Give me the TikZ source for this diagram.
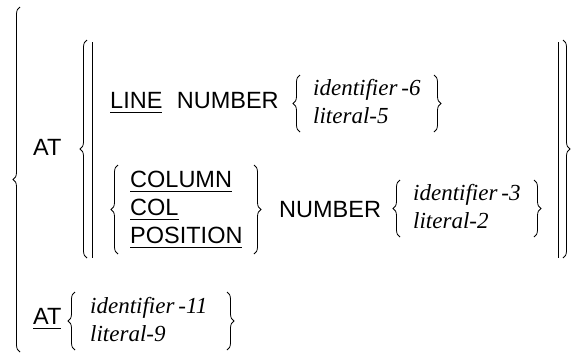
\documentclass[tikz,border=0pt]{standalone}
\usepackage{fontspec}
\setmainfont{Liberation Serif}
\setsansfont{Liberation Sans}
\usetikzlibrary{decorations.pathreplacing,positioning}
\newsavebox{\kwbox}
\newcommand{\kwul}[1]{\sbox{\kwbox}{#1}%
  \rlap{\rule[-5pt]{\wd\kwbox}{1.3pt}}\usebox{\kwbox}}
\tikzset{
  keyword/.style={font=\fontsize{23.5}{28}\selectfont\sffamily,
    inner sep=0pt, anchor=base west},
  operand/.style={font=\fontsize{23}{28}\selectfont\itshape,
    inner sep=0pt, anchor=base west},
  curly/.style={decorate, decoration={brace, amplitude=7pt},
    line width=0.8pt},
  choice bar/.style={line width=0.9pt}
}

\begin{document}
\begin{tikzpicture}[x=1pt, y=-1pt]
  \useasboundingbox (0,0) rectangle (582,354);
  % first choice: AT with LINE / COLUMN
  \node[keyword] (at) at (33,155) {AT};
  \node[keyword] (line) at (110,108) {\kwul{LINE}};
  \node[keyword, right=14pt of line.base east, anchor=base west] (numline) {NUMBER};
  \node[operand] (id6) at (313,95) {identifier\,-6};
  \node[operand] (lit5) at (313,123) {literal-5};
  \node[keyword] (column) at (130,187) {\kwul{COLUMN}};
  \node[keyword] (col) at (130,215) {\kwul{COL}};
  \node[keyword] (position) at (130,243) {\kwul{POSITION}};
  \node[keyword] (numcol) at (279,217) {NUMBER};
  \node[operand] (id3) at (413,200) {identifier\,-3};
  \node[operand] (lit2) at (413,228) {literal-2};
  % second choice: AT alone
  \node[keyword] (atonly) at (33,324) {\kwul{AT}};
  \node[operand] (id11) at (90,313) {identifier\,-11};
  \node[operand] (lit9) at (90,341) {literal-9};
  % braces and bars
  \draw[curly] (20,352) -- (20,7);
  \draw[curly] (87,258) -- (87,40);
  \draw[choice bar] (92,42) -- (92,258);
  \draw[choice bar] (558,42) -- (558,258);
  \draw[curly] (563,40) -- (563,258);
  \draw[curly] (300,132) -- (300,75);
  \draw[curly] (434,75) -- (434,132);
  \draw[curly] (118,254) -- (118,165);
  \draw[curly] (254,165) -- (254,254);
  \draw[curly] (400,237) -- (400,180);
  \draw[curly] (534,180) -- (534,237);
  \draw[curly] (75,350) -- (75,292);
  \draw[curly] (227,292) -- (227,350);
\end{tikzpicture}
\end{document}
